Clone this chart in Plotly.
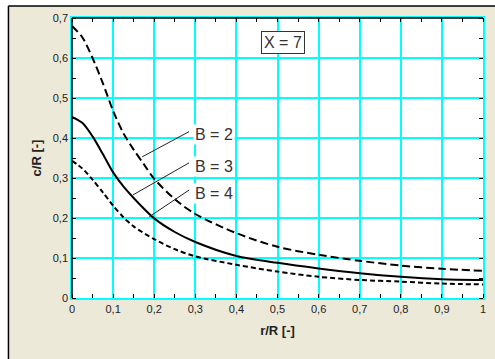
import plotly.graph_objects as go

# Relative radius r/R and the corresponding c/R for each B
r_B2 = [0, 0.025, 0.05, 0.075, 0.1, 0.125, 0.15, 0.175, 0.2, 0.25, 0.3, 0.4, 0.5, 0.6, 0.7, 0.8, 0.9, 1.0]
c_B2 = [0.68, 0.652, 0.60, 0.537, 0.468, 0.412, 0.371, 0.334, 0.298, 0.247, 0.21, 0.162, 0.128, 0.108, 0.093, 0.081, 0.073, 0.068]

r_B3 = [0, 0.025, 0.05, 0.075, 0.1, 0.125, 0.15, 0.2, 0.25, 0.3, 0.4, 0.5, 0.6, 0.7, 0.8, 0.9, 1.0]
c_B3 = [0.453, 0.438, 0.404, 0.36, 0.314, 0.279, 0.25, 0.199, 0.165, 0.14, 0.105, 0.088, 0.074, 0.062, 0.053, 0.047, 0.045]

r_B4 = [0, 0.025, 0.05, 0.075, 0.1, 0.125, 0.15, 0.2, 0.25, 0.3, 0.4, 0.5, 0.6, 0.7, 0.8, 0.9, 1.0]
c_B4 = [0.343, 0.324, 0.296, 0.264, 0.231, 0.202, 0.179, 0.147, 0.122, 0.104, 0.083, 0.066, 0.053, 0.045, 0.041, 0.036, 0.034]

x_ticks = [0, 0.1, 0.2, 0.3, 0.4, 0.5, 0.6, 0.7, 0.8, 0.9, 1]
x_labels = ["0", "0,1", "0,2", "0,3", "0,4", "0,5", "0,6", "0,7", "0,8", "0,9", "1"]
y_ticks = [0, 0.1, 0.2, 0.3, 0.4, 0.5, 0.6, 0.7]
y_labels = ["0", "0,1", "0,2", "0,3", "0,4", "0,5", "0,6", "0,7"]

BEIGE = "#ECE9D8"
CYAN = "#00FFFF"
FONT = "Liberation Sans, Arial, sans-serif"

fig = go.Figure()
fig.add_trace(go.Scatter(x=r_B2, y=c_B2, mode="lines", name="B = 2",
                         line=dict(color="black", width=2, dash="8px,4px", shape="spline", smoothing=0.8)))
fig.add_trace(go.Scatter(x=r_B3, y=c_B3, mode="lines", name="B = 3",
                         line=dict(color="black", width=2, shape="spline", smoothing=0.8)))
fig.add_trace(go.Scatter(x=r_B4, y=c_B4, mode="lines", name="B = 4",
                         line=dict(color="black", width=2, dash="5px,3px", shape="spline", smoothing=0.8)))

axis_common = dict(
    showgrid=True, gridcolor=CYAN, gridwidth=1.5,
    zeroline=False, showline=True, linecolor=CYAN, linewidth=1.5, mirror="ticks",
    ticks="", tickfont=dict(family=FONT, size=11, color="#222"),
    minor=dict(ticks="inside", ticklen=4, tickcolor="black", tickwidth=1, showgrid=False),
)

fig.update_xaxes(range=[0, 1], tickvals=x_ticks, ticktext=x_labels, **axis_common)
fig.update_xaxes(minor_dtick=0.05, minor_tick0=0.05,
                 title=dict(text="<b>r/R [-]</b>", font=dict(family=FONT, size=13, color="#222"), standoff=12))
fig.update_yaxes(range=[0, 0.7], tickvals=y_ticks, ticktext=y_labels, **axis_common)
fig.update_yaxes(minor_dtick=0.05, minor_tick0=0.05,
                 title=dict(text="<b>c/R [-]</b>", font=dict(family=FONT, size=13, color="#222"), standoff=8))

shapes = [
    # white strips outside the panel frame
    dict(type="rect", xref="paper", yref="paper", x0=-0.18, x1=-0.1546, y0=-0.25, y1=1.1, fillcolor="white", line_width=0, layer="below"),
    dict(type="rect", xref="paper", yref="paper", x0=-0.18, x1=1.05, y0=1.0429, y1=1.1, fillcolor="white", line_width=0, layer="below"),
    # panel frame edges
    dict(type="line", xref="paper", yref="paper", x0=-0.1546, x1=1.05, y0=1.0429, y1=1.0429, line=dict(color="black", width=1.5)),
    dict(type="line", xref="paper", yref="paper", x0=-0.1546, x1=-0.1546, y0=-0.25, y1=1.0429, line=dict(color="black", width=1.5)),
    # plot frame: left and top in black
    dict(type="line", xref="paper", yref="paper", x0=0, x1=0, y0=0, y1=1, line=dict(color="black", width=1.5)),
    dict(type="line", xref="paper", yref="paper", x0=0, x1=1, y0=1, y1=1, line=dict(color="black", width=1.5)),
    # leader lines for the curve labels
    dict(type="line", x0=0.285, y0=0.416, x1=0.171, y1=0.353, line=dict(color="#222", width=1)),
    dict(type="line", x0=0.285, y0=0.338, x1=0.148, y1=0.2575, line=dict(color="#222", width=1)),
    dict(type="line", x0=0.285, y0=0.27, x1=0.188, y1=0.203, line=dict(color="#222", width=1)),
]

label_font = dict(family=FONT, size=16, color="#333")
annotations = [
    dict(x=0.295, y=0.41, text="B = 2", showarrow=False, xanchor="left", yanchor="middle", font=label_font, bgcolor="white"),
    dict(x=0.295, y=0.33, text="B = 3", showarrow=False, xanchor="left", yanchor="middle", font=label_font, bgcolor="white"),
    dict(x=0.295, y=0.2625, text="B = 4", showarrow=False, xanchor="left", yanchor="middle", font=label_font, bgcolor="white"),
    dict(x=0.514, y=0.639, text="X = 7", showarrow=False, xanchor="center", yanchor="middle", font=label_font,
         bgcolor="white", bordercolor="#333", borderwidth=1, borderpad=2),
]

fig.update_layout(
    width=495, height=359,
    margin=dict(l=72, r=9, t=18, b=61),
    paper_bgcolor=BEIGE, plot_bgcolor="white",
    separators=", ",
    showlegend=False,
    shapes=shapes, annotations=annotations,
)

fig.write_html("out.html")
